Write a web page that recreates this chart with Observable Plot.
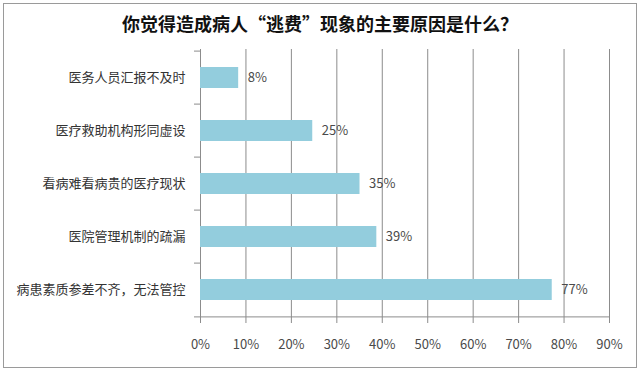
<!DOCTYPE html>
<html>
<head>
<meta charset="utf-8">
<script src="https://cdn.jsdelivr.net/npm/d3@7"></script>
<script src="https://cdn.jsdelivr.net/npm/@observablehq/plot@0.6"></script>
<style>
  html, body { margin: 0; padding: 0; background: #fff; }
  #wrap { position: relative; width: 640px; height: 371px; overflow: hidden; font-family: "Noto Sans CJK SC", "Noto Sans", sans-serif; }
  #border { position: absolute; left: 3px; top: 3px; width: 634px; height: 365px; box-sizing: border-box; border: 1px solid #9a9a9a; pointer-events: none; }
  #title { height: 48px; line-height: 46px; text-align: center; font-size: 18px; font-weight: bold; color: #111; box-sizing: border-box; }
  #chart svg g[aria-label*="x-axis"] text { fill: #4a4a4a; }
</style>
</head>
<body>
<div id="wrap">
  <div id="title">你觉得造成病人“逃费”现象的主要原因是什么？</div>
  <div id="chart"></div>
  <div id="border"></div>
</div>
<script>
const categories = ["医务人员汇报不及时", "医疗救助机构形同虚设", "看病难看病贵的医疗现状", "医院管理机制的疏漏", "病患素质参差不齐，无法管控"];
const values = [8.4, 24.7, 35.1, 38.8, 77.4];
const valueLabels = ["8%", "25%", "35%", "39%", "77%"];
const xTicks = [0, 10, 20, 30, 40, 50, 60, 70, 80, 90];

const data = categories.map((c, i) => ({cat: c, value: values[i], label: valueLabels[i]}));

const H = 323, MT = 1, MB = 53;
const step = (H - MT - MB) / categories.length;
const gridColor = "#8c8c8c";

const chart = Plot.plot({
  width: 640,
  height: H,
  marginLeft: 200,
  marginRight: 31,
  marginTop: MT,
  marginBottom: MB,
  style: { fontFamily: "'Noto Sans CJK SC', 'Noto Sans', sans-serif", fontSize: "13px", color: gridColor, background: "white" },
  x: { domain: [0, 90], ticks: xTicks, tickFormat: d => d + "%", tickSize: 5, tickPadding: 16, label: null },
  y: { domain: categories, paddingInner: 0.6, paddingOuter: 0.3, axis: null, label: null },
  marks: [
    Plot.ruleX(xTicks, { stroke: gridColor, strokeWidth: 1 }),
    Plot.barX(data, { x: "value", y: "cat", fill: "#93cddd" }),
    // category boundary ticks on the left axis
    Plot.ruleY(categories, { y: d => d, dy: -step / 2, x1: -1.32, x2: 0, stroke: gridColor }),
    Plot.ruleY([categories[categories.length - 1]], { y: d => d, dy: step / 2, x1: -1.32, x2: 90, stroke: gridColor }),
    Plot.text(categories, { y: d => d, frameAnchor: "left", textAnchor: "end", dx: -15, fontSize: 13, fill: "#333" }),
    Plot.text(data, { x: "value", y: "cat", text: "label", textAnchor: "start", dx: 9, fontSize: 13, fill: "#4a4a4a" })
  ]
});
document.getElementById("chart").appendChild(chart);
</script>
</body>
</html>
